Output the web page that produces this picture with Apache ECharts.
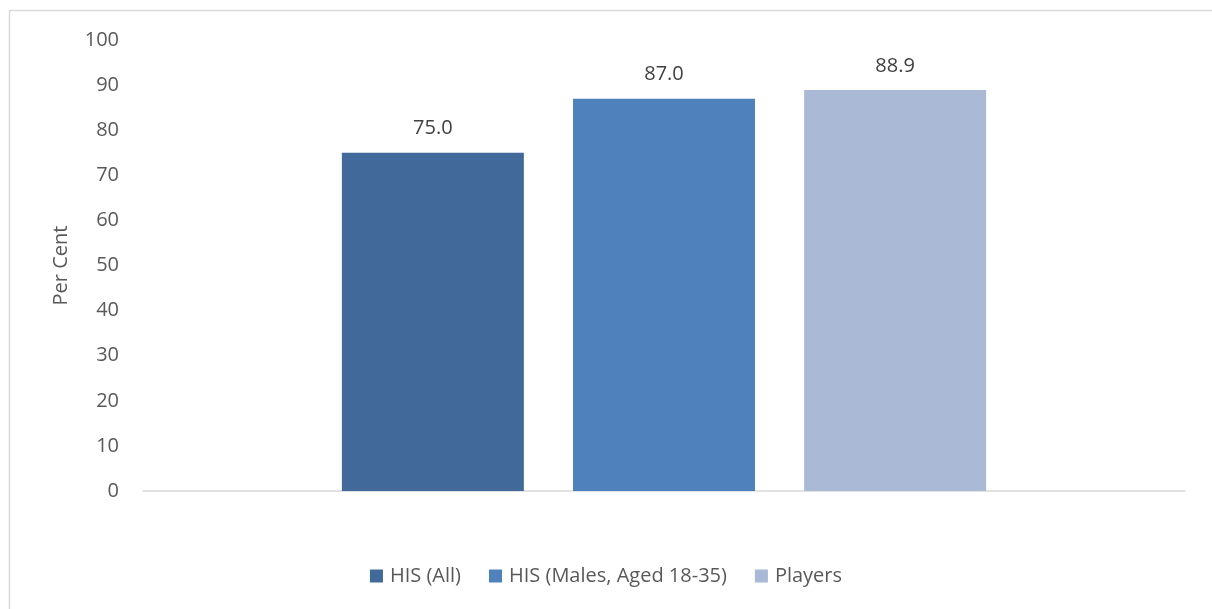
<!DOCTYPE html>
<html><head><meta charset="utf-8">
<script src="https://cdn.jsdelivr.net/npm/echarts@6/dist/echarts.min.js"></script>
<style>html,body{margin:0;padding:0;background:#fff}#c{width:1212px;height:609px}</style>
</head><body><div id="c"></div>
<script>
const categories = [''];
const seriesNames = ['HIS (All)', 'HIS (Males, Aged 18-35)', 'Players'];
const seriesValues = [[75.0], [87.0], [88.9]];
const seriesColors = ['#416A9B', '#4F81BD', '#A9B9D6'];
const yTicks = [0, 100, 10];

const font = '"Open Sans", "Liberation Sans", sans-serif';
const chart = echarts.init(document.getElementById('c'), null, {renderer: 'canvas'});
chart.setOption({
  animation: false,
  graphic: [{type: 'rect', shape: {x: 9.5, y: 10.5, width: 1400, height: 800}, style: {fill: 'none', stroke: '#d9d9d9', lineWidth: 1.5}, silent: true}],
  grid: {left: 143, right: 27, top: 40, bottom: 118, containLabel: false},
  legend: {
    bottom: 18, left: 'center', itemWidth: 13, itemHeight: 13, itemGap: 28,
    icon: 'rect',
    textStyle: {fontFamily: font, fontSize: 20, color: '#595959', padding: [0, 0, 0, 2]},
    data: seriesNames
  },
  xAxis: {
    type: 'category', data: categories,
    axisLine: {lineStyle: {color: '#d9d9d9', width: 1.5}},
    axisTick: {show: false}, axisLabel: {show: false}
  },
  yAxis: {
    type: 'value', min: yTicks[0], max: yTicks[1], interval: yTicks[2],
    name: 'Per Cent', nameLocation: 'middle', nameGap: 72, nameRotate: 90,
    nameTextStyle: {fontFamily: font, fontSize: 20, color: '#595959'},
    axisLine: {show: false}, axisTick: {show: false},
    splitLine: {show: false},
    axisLabel: {fontFamily: font, fontSize: 20, color: '#595959', margin: 24}
  },
  series: seriesNames.map((n, i) => ({
    name: n, type: 'bar', data: seriesValues[i],
    barWidth: 182, barGap: '27%',
    itemStyle: {color: seriesColors[i]},
    label: {show: true, position: 'top', distance: 14, formatter: p => p.value.toFixed(1),
      fontFamily: font, fontSize: 20, color: '#404040'}
  }))
});
</script></body></html>
